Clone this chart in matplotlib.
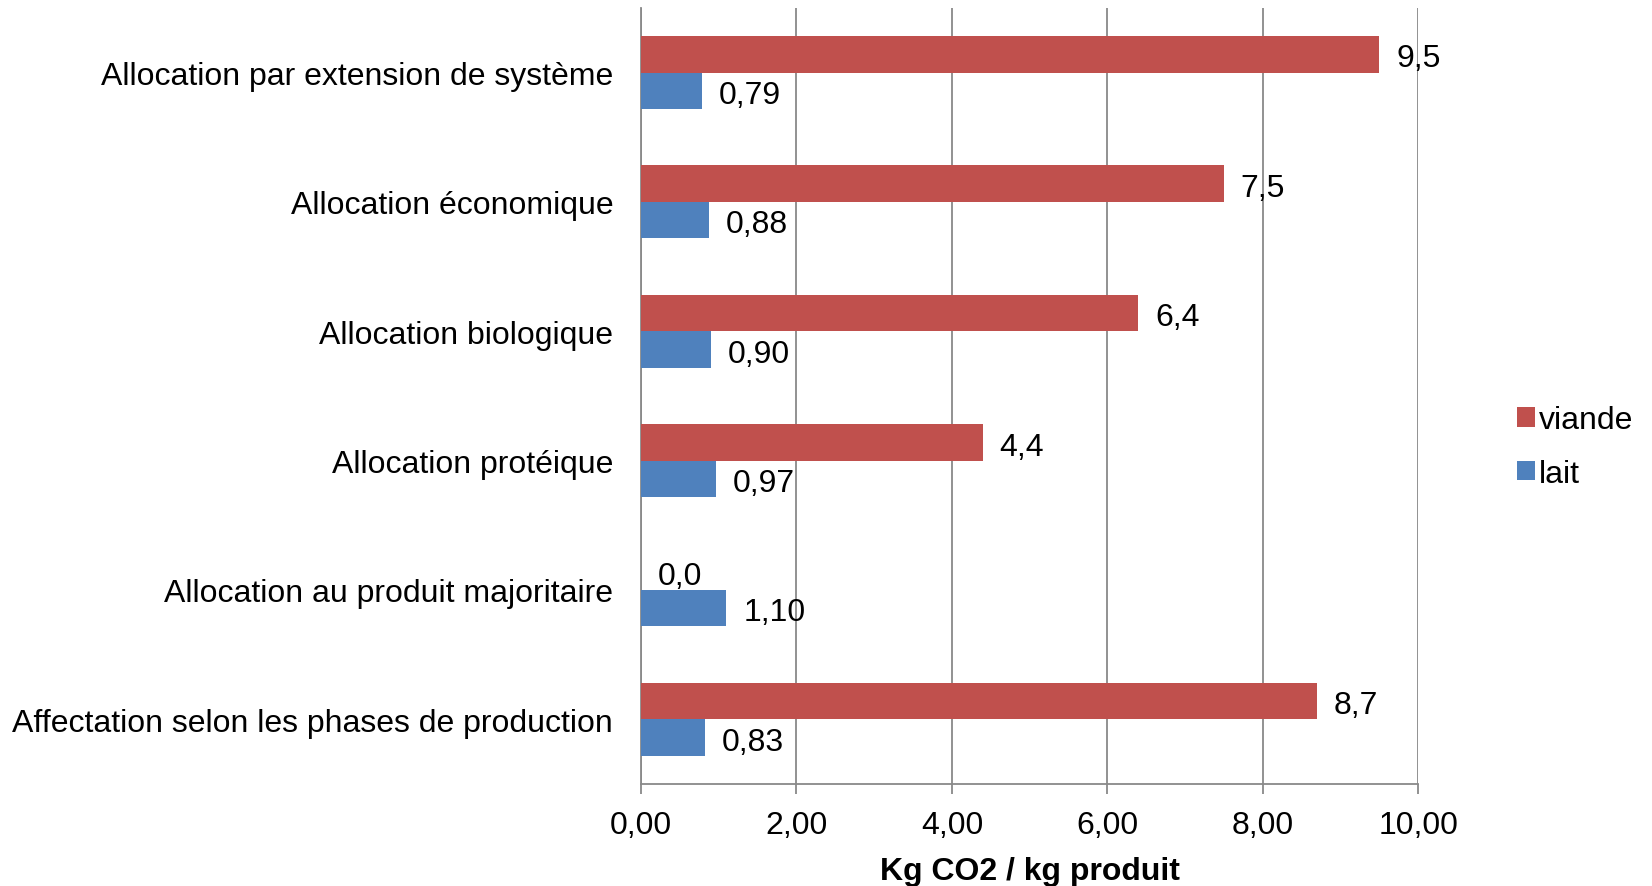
import matplotlib
matplotlib.use("Agg")
import matplotlib.pyplot as plt
import numpy as np

plt.rcParams['font.family'] = ['Liberation Sans', 'DejaVu Sans']

# Categories listed top to bottom
categories = [
    "Allocation par extension de système",
    "Allocation économique",
    "Allocation biologique",
    "Allocation protéique",
    "Allocation au produit majoritaire",
    "Affectation selon les phases de production",
]
viande = [9.5, 7.5, 6.4, 4.4, 0.0, 8.7]
lait = [0.79, 0.88, 0.90, 0.97, 1.10, 0.83]

red = '#C0504D'
blue = '#4F81BD'
grid_col = '#898989'
fs = 23

fig = plt.figure(figsize=(16.52, 8.87), dpi=100, facecolor='white')
ax = fig.add_axes([0.388, 0.115, 0.4705, 0.875])

n = len(categories)
y = np.arange(n)[::-1]
h = 0.282

ax.barh(y + h / 2, viande, height=h, color=red, label='viande', zorder=3)
ax.barh(y - h / 2, lait, height=h, color=blue, label='lait', zorder=3)

# value labels, french decimal comma
for yi, v in zip(y, viande):
    ax.annotate(f"{v:.1f}".replace('.', ','), (v, yi + h / 2), xytext=(12, -3),
                textcoords='offset points', va='center', ha='left', fontsize=fs)
for yi, v in zip(y, lait):
    ax.annotate(f"{v:.2f}".replace('.', ','), (v, yi - h / 2), xytext=(12, -3),
                textcoords='offset points', va='center', ha='left', fontsize=fs)

ax.set_xlim(0, 10)
ax.set_ylim(-0.5, n - 0.5)
ax.set_xticks(np.arange(0, 11, 2))
ax.set_xticklabels([f"{t:.2f}".replace('.', ',') for t in np.arange(0, 11, 2)], fontsize=fs)
ax.set_yticks(y)
ax.set_yticklabels(categories, fontsize=fs)
ax.tick_params(axis='y', length=0, pad=20)
ax.tick_params(axis='x', length=7, width=1.3, color=grid_col, pad=12, direction='out')

ax.xaxis.grid(True, color=grid_col, linewidth=1.3, zorder=0)
ax.set_axisbelow(True)
for side in ['top', 'right']:
    ax.spines[side].set_visible(False)
for side in ['left', 'bottom']:
    ax.spines[side].set_color(grid_col)
    ax.spines[side].set_linewidth(1.3)

ax.set_xlabel("Kg CO2 / kg produit", fontsize=fs, fontweight='bold', labelpad=11)

leg = ax.legend(loc='center left', bbox_to_anchor=(1.09, 0.434), frameon=False,
                fontsize=fs, handlelength=0.55, handleheight=0.55, handletextpad=0.15,
                labelspacing=0.75)

fig.savefig("out.png", dpi=100, facecolor='white')
